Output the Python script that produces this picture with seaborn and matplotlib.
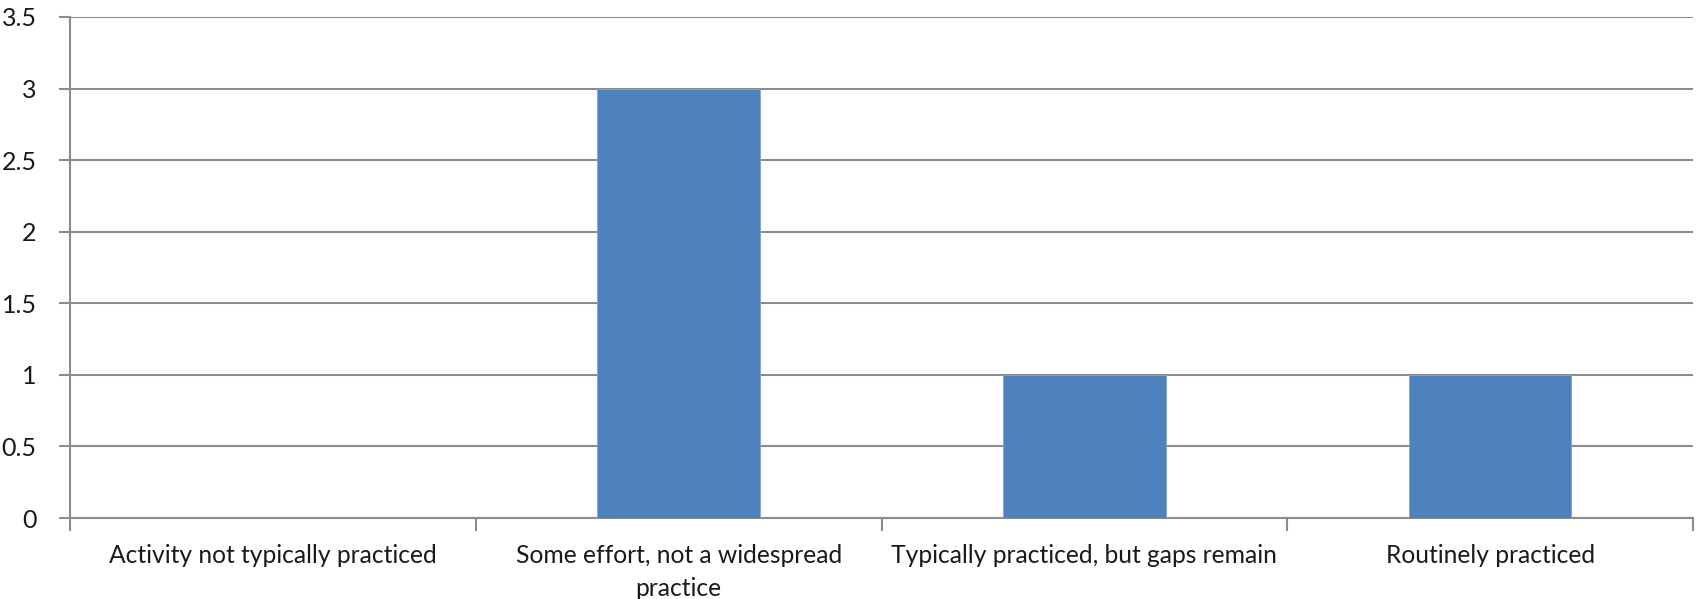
import matplotlib
matplotlib.use("Agg")
import matplotlib.pyplot as plt
import seaborn as sns
import pandas as pd

categories = [
    "Activity not typically practiced",
    "Some effort, not a widespread\npractice",
    "Typically practiced, but gaps remain",
    "Routinely practiced",
]
counts = [0, 3, 1, 1]
y_ticks = [0, 0.5, 1, 1.5, 2, 2.5, 3, 3.5]
y_tick_labels = ["0", "0.5", "1", "1.5", "2", "2.5", "3", "3.5"]

sns.set_theme(style="white")
plt.rcParams["font.family"] = ["Lato", "DejaVu Sans"]

grid_color = "#8c8c8c"
bar_color = "#4F81BD"

df = pd.DataFrame({"category": categories, "count": counts})

fig = plt.figure(figsize=(16.98, 5.99), dpi=100)
ax = fig.add_axes([70 / 1698, 1 - 518 / 599, (1693 - 70) / 1698, (518 - 17) / 599])

sns.barplot(data=df, x="category", y="count", color=bar_color, width=0.4,
            saturation=1, ax=ax, zorder=3)
for p in ax.patches:
    p.set_edgecolor("#7fa3cf")
    p.set_linewidth(0.6)

ax.set_xlim(-0.5, len(categories) - 0.5)
ax.set_ylim(0, 3.5)
ax.set_yticks(y_ticks)
ax.set_yticklabels(y_tick_labels, fontsize=18, color="#1a1a1a")
ax.yaxis.grid(True, color=grid_color, linewidth=1.5)
ax.set_axisbelow(True)

ax.set_xlabel("")
ax.set_ylabel("")
ax.tick_params(axis="x", which="major", length=0, pad=19, labelsize=17.7,
               labelcolor="#1a1a1a")
for lbl in ax.get_xticklabels():
    lbl.set_linespacing(1.5)
ax.set_xticks([i - 0.5 for i in range(len(categories) + 1)], minor=True)
ax.tick_params(axis="x", which="minor", length=9, width=1.5, color=grid_color,
               direction="out", bottom=True)
ax.tick_params(axis="y", length=8, width=1.5, color=grid_color, pad=16,
               direction="out", left=True)

for side in ["top", "right"]:
    ax.spines[side].set_visible(False)
for side in ["left", "bottom"]:
    ax.spines[side].set_color(grid_color)
    ax.spines[side].set_linewidth(1.5)

fig.savefig("out.png", dpi=100)
